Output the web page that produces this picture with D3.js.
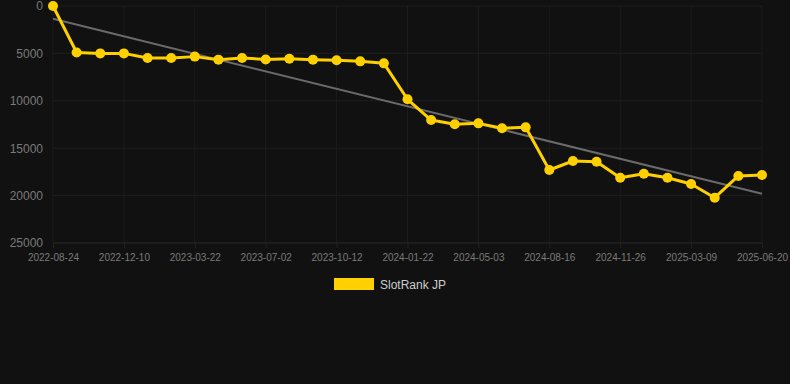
<!DOCTYPE html>
<html>
<head>
<meta charset="utf-8">
<script src="https://cdn.jsdelivr.net/npm/d3@7"></script>
<style>
  body { margin: 0; background: #111111; }
  text { font-family: "Liberation Sans", Arial, sans-serif; }
</style>
</head>
<body>
<div id="canvas"></div>
<script>
const dates = ["2022-08-24", "2022-09-29", "2022-11-04", "2022-12-10", "2023-01-13", "2023-02-16",
  "2023-03-22", "2023-04-25", "2023-05-29", "2023-07-02", "2023-08-05", "2023-09-08",
  "2023-10-12", "2023-11-15", "2023-12-19", "2024-01-22", "2024-02-25", "2024-03-30",
  "2024-05-03", "2024-06-07", "2024-07-12", "2024-08-16", "2024-09-19", "2024-10-23",
  "2024-11-26", "2024-12-30", "2025-02-03", "2025-03-09", "2025-04-12", "2025-05-16",
  "2025-06-20"];
const ranks = [0, 4900, 5000, 5000, 5480, 5480, 5340, 5660, 5480, 5640, 5560, 5660,
  5730, 5840, 6050, 9840, 12030, 12480, 12380, 12900, 12800, 17300, 16350, 16420,
  18110, 17690, 18110, 18780, 20220, 17930, 17830];
const yTicks = [0, 5000, 10000, 15000, 20000, 25000];
const seriesName = "SlotRank JP";

const width = 790, height = 384;
const margin = { top: 6, left: 53, right: 28, bottom: 141 };
const iwidth = width - margin.left - margin.right;
const iheight = height - margin.top - margin.bottom;

const svg = d3.select("#canvas").append("svg")
  .attr("width", width)
  .attr("height", height);

svg.append("rect").attr("width", width).attr("height", height).attr("fill", "#111111");

const g = svg.append("g").attr("transform", `translate(${margin.left},${margin.top})`);

const x = d3.scalePoint().domain(dates).range([0, iwidth]);
const y = d3.scaleLinear().domain([0, 25000]).range([0, iheight]);

const data = dates.map((d, i) => ({ date: d, i: i, value: ranks[i] }));
const tickDates = dates.filter((d, i) => i % 3 === 0);

// grid
g.append("g").selectAll("line")
  .data(tickDates)
  .enter().append("line")
  .attr("x1", d => x(d)).attr("x2", d => x(d))
  .attr("y1", 0).attr("y2", iheight)
  .attr("stroke", "#1c1c1c");

g.append("g").selectAll("line")
  .data(yTicks)
  .enter().append("line")
  .attr("x1", 0).attr("x2", iwidth)
  .attr("y1", d => y(d)).attr("y2", d => y(d))
  .attr("stroke", d => d === 25000 ? "#2a2a2a" : "#1e1e1e");

// axes
const yAxis = g.append("g")
  .call(d3.axisLeft(y).tickValues(yTicks).tickSize(0).tickPadding(10).tickFormat(d3.format("d")));
yAxis.select(".domain").remove();
yAxis.selectAll("text").attr("fill", "#7a7a7a").attr("font-size", 12);

const xAxis = g.append("g")
  .attr("transform", `translate(0,${iheight})`)
  .call(d3.axisBottom(x).tickValues(tickDates).tickSize(5).tickPadding(6));
xAxis.select(".domain").remove();
xAxis.selectAll("line").attr("stroke", "#222222");
xAxis.selectAll("text").attr("fill", "#7a7a7a").attr("font-size", 10);

// trend line (least squares over the series)
const n = data.length;
const mx = d3.mean(data, d => d.i), my = d3.mean(data, d => d.value);
const slope = d3.sum(data, d => (d.i - mx) * (d.value - my)) / d3.sum(data, d => (d.i - mx) ** 2);
const icpt = my - slope * mx;
g.append("line")
  .attr("x1", x(dates[0])).attr("y1", y(icpt))
  .attr("x2", x(dates[n - 1])).attr("y2", y(icpt + slope * (n - 1)))
  .attr("stroke", "#6a6a6a")
  .attr("stroke-width", 2);

// series
g.append("path")
  .datum(data)
  .attr("fill", "none")
  .attr("stroke", "#ffd000")
  .attr("stroke-width", 3)
  .attr("stroke-linejoin", "round")
  .attr("d", d3.line().x(d => x(d.date)).y(d => y(d.value)));

g.selectAll(".dot")
  .data(data)
  .enter().append("circle")
  .attr("class", "dot")
  .attr("cx", d => x(d.date))
  .attr("cy", d => y(d.value))
  .attr("r", 5)
  .attr("fill", "#ffd000");

// legend
const legend = svg.append("g").attr("transform", "translate(334,278)");
legend.append("rect").attr("width", 40).attr("height", 12).attr("fill", "#ffd000");
legend.append("text").attr("x", 46).attr("y", 10.5)
  .attr("fill", "#cccccc").attr("font-size", 12).text(seriesName);
</script>
</body>
</html>
